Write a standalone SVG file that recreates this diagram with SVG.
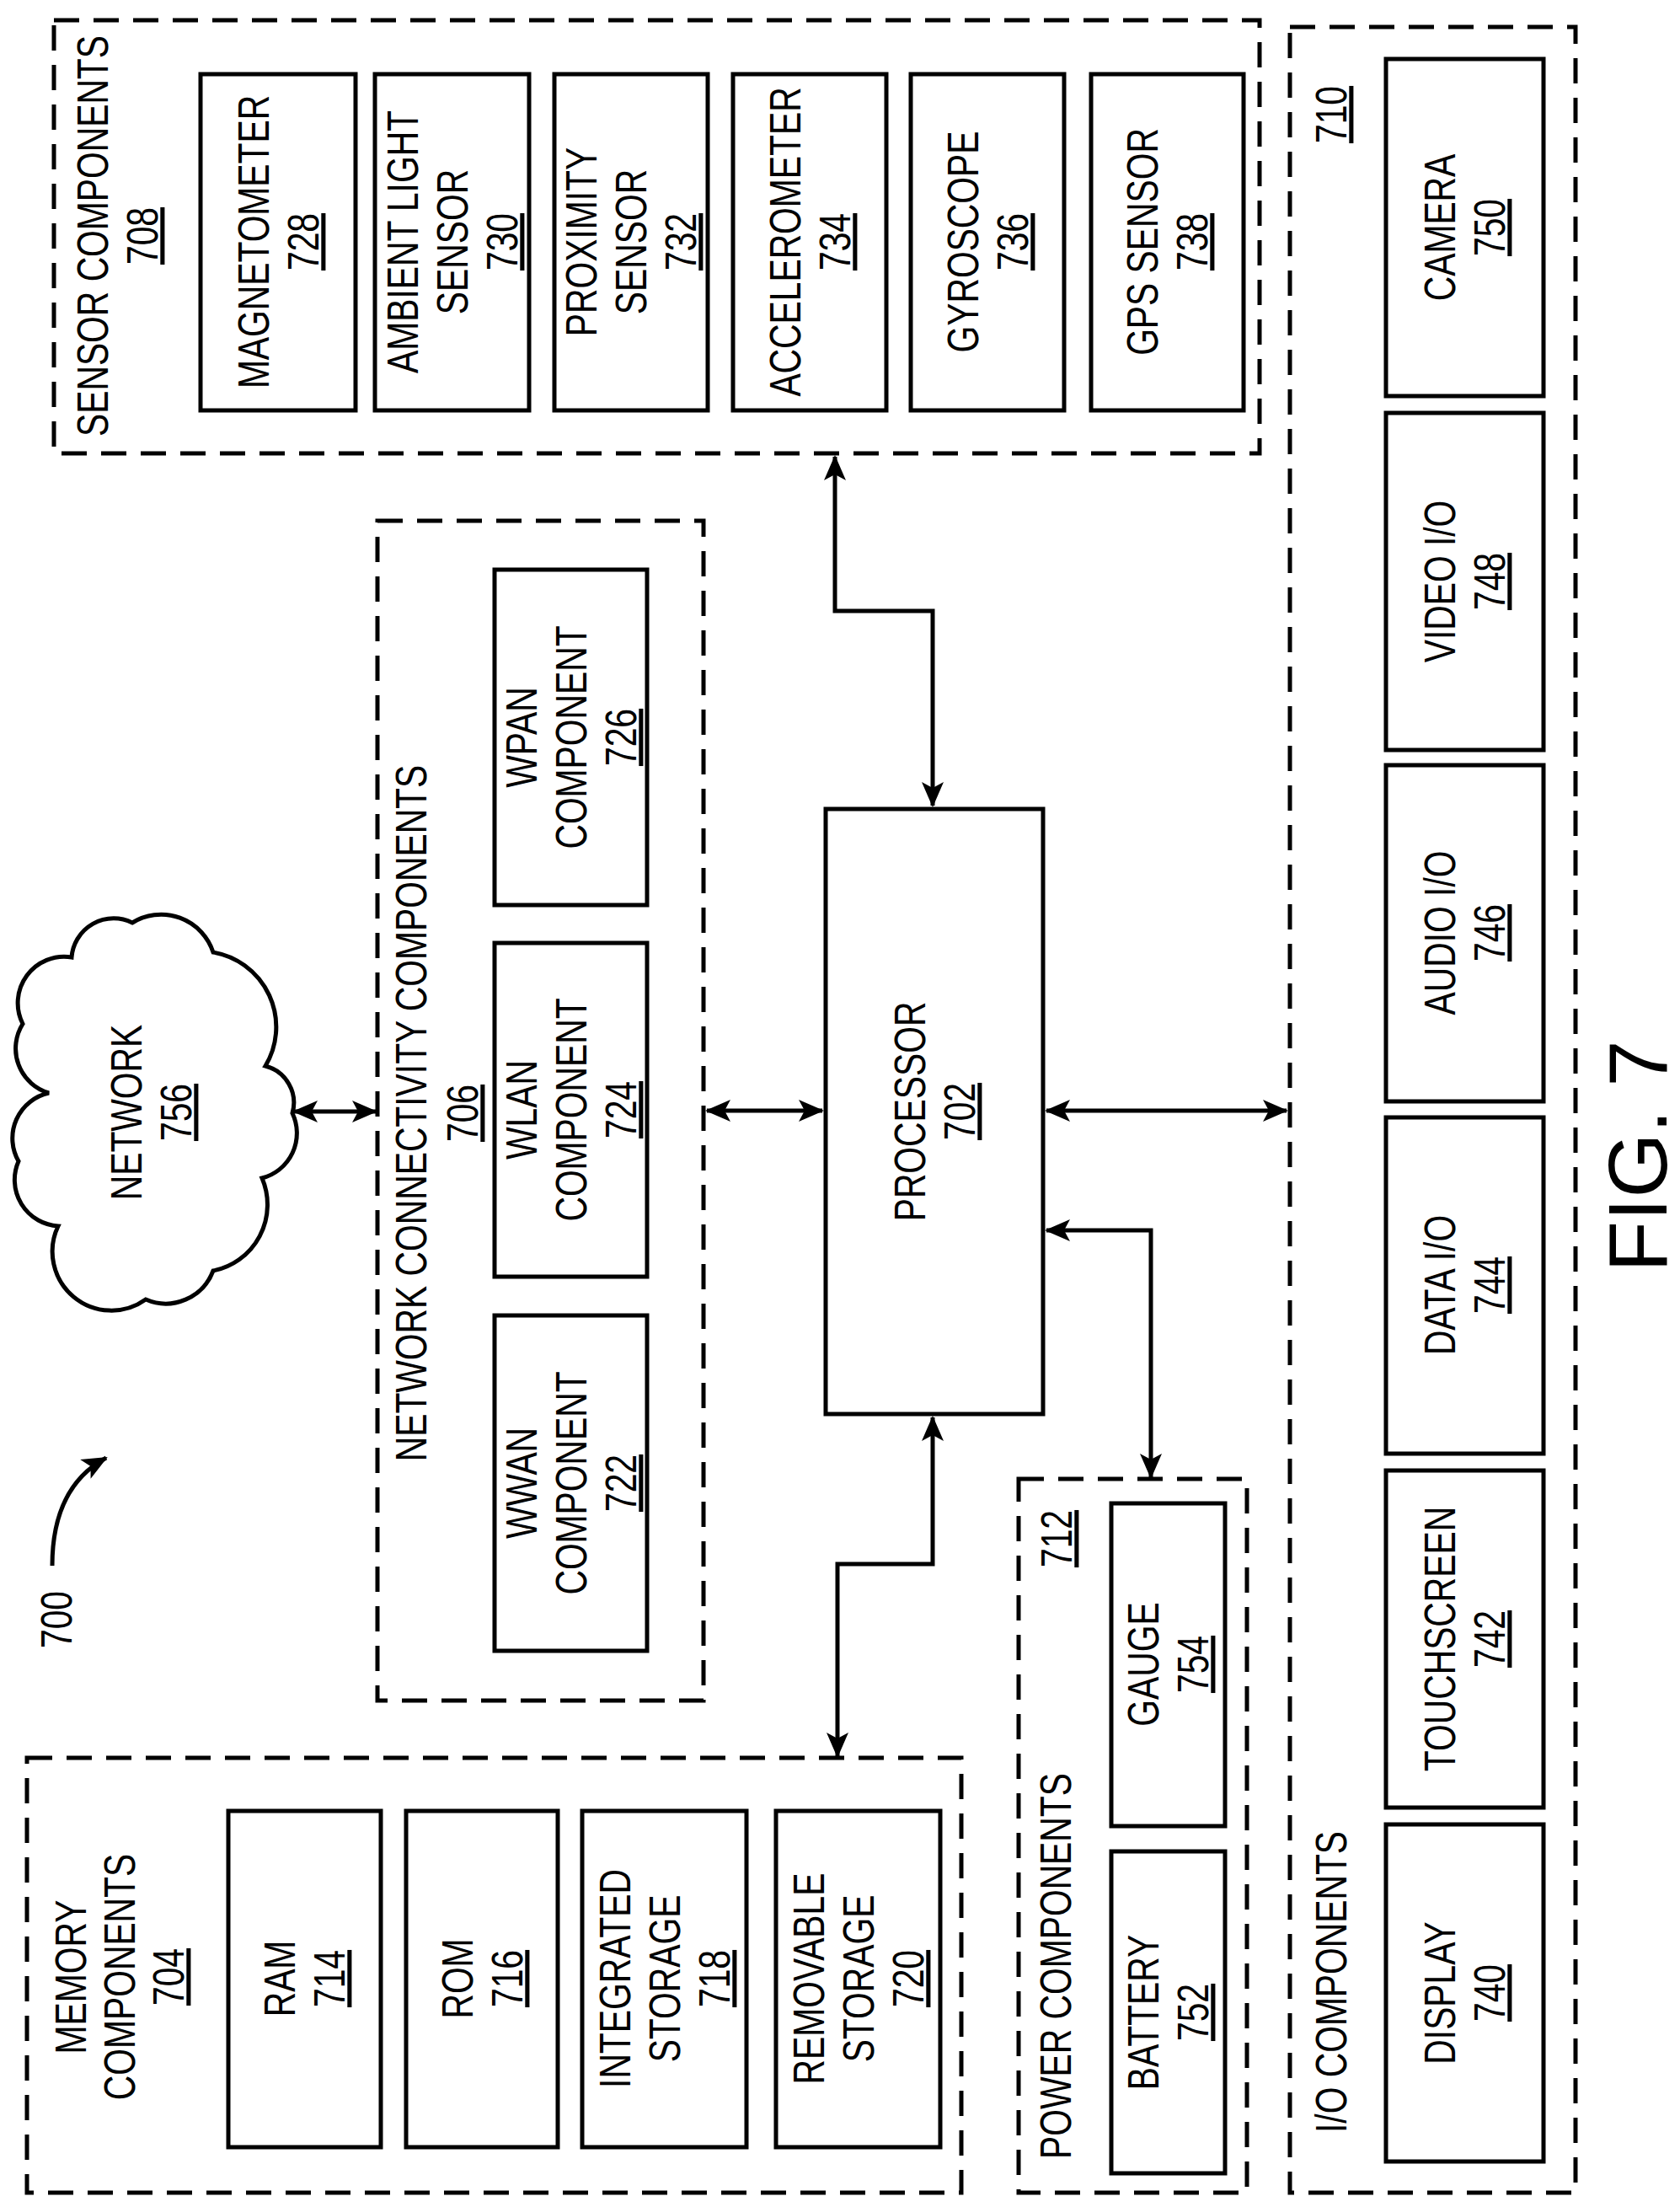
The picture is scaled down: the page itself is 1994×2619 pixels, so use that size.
<svg xmlns="http://www.w3.org/2000/svg" width="1994" height="2619" viewBox="0 0 1994 2619">
<style>
.b{fill:#fff;stroke:#000;stroke-width:5}
.d{fill:none;stroke:#000;stroke-width:5;stroke-dasharray:30 17}
.c{fill:none;stroke:#000;stroke-width:5}
text{font-family:"Liberation Sans",Arial,sans-serif;font-size:51px;fill:#000;text-anchor:middle}
.u{text-decoration:underline}
</style>
<defs>
<marker id="a" markerUnits="userSpaceOnUse" markerWidth="30" markerHeight="26" viewBox="0 0 30 26" refX="28" refY="13" orient="auto-start-reverse"><path d="M0,0 L30,13 L0,26 L7,13 Z" fill="#000"/></marker>
</defs>
<rect width="1994" height="2619" fill="#fff"/>

<g id="sensor">
<rect class="d" x="64" y="24" width="1431" height="514"/>
<text transform="translate(128,280) rotate(-90) scale(0.8,1)">SENSOR COMPONENTS</text>
<text class="u" transform="translate(187,280) rotate(-90) scale(0.8,1)">708</text>
</g>
<g id="n728"><rect class="b" x="238" y="88" width="184" height="399"/>
<text transform="translate(319,287) rotate(-90) scale(0.8,1)">MAGNETOMETER</text>
<text class="u" transform="translate(378,287) rotate(-90) scale(0.8,1)">728</text></g>
<g id="n730"><rect class="b" x="445" y="88" width="183" height="399"/>
<text transform="translate(496,287) rotate(-90) scale(0.8,1)">AMBIENT LIGHT</text>
<text transform="translate(555,287) rotate(-90) scale(0.8,1)">SENSOR</text>
<text class="u" transform="translate(614,287) rotate(-90) scale(0.8,1)">730</text></g>
<g id="n732"><rect class="b" x="658" y="88" width="182" height="399"/>
<text transform="translate(708,287) rotate(-90) scale(0.8,1)">PROXIMITY</text>
<text transform="translate(767,287) rotate(-90) scale(0.8,1)">SENSOR</text>
<text class="u" transform="translate(826,287) rotate(-90) scale(0.8,1)">732</text></g>
<g id="n734"><rect class="b" x="870" y="88" width="182" height="399"/>
<text transform="translate(950,287) rotate(-90) scale(0.8,1)">ACCELEROMETER</text>
<text class="u" transform="translate(1009,287) rotate(-90) scale(0.8,1)">734</text></g>
<g id="n736"><rect class="b" x="1081" y="88" width="182" height="399"/>
<text transform="translate(1161,287) rotate(-90) scale(0.8,1)">GYROSCOPE</text>
<text class="u" transform="translate(1220,287) rotate(-90) scale(0.8,1)">736</text></g>
<g id="n738"><rect class="b" x="1295" y="88" width="181" height="399"/>
<text transform="translate(1374,287) rotate(-90) scale(0.8,1)">GPS SENSOR</text>
<text class="u" transform="translate(1433,287) rotate(-90) scale(0.8,1)">738</text></g>

<g id="io">
<rect class="d" x="1531" y="32" width="339" height="2570"/>
<text class="u" transform="translate(1598,136) rotate(-90) scale(0.8,1)">710</text>
<text transform="translate(1598,2352) rotate(-90) scale(0.8,1)">I/O COMPONENTS</text>
</g>
<g id="n750"><rect class="b" x="1645" y="70" width="187" height="400"/>
<text transform="translate(1727,270) rotate(-90) scale(0.8,1)">CAMERA</text>
<text class="u" transform="translate(1786,270) rotate(-90) scale(0.8,1)">750</text></g>
<g id="n748"><rect class="b" x="1645" y="490" width="187" height="400"/>
<text transform="translate(1727,690) rotate(-90) scale(0.8,1)">VIDEO I/O</text>
<text class="u" transform="translate(1786,690) rotate(-90) scale(0.8,1)">748</text></g>
<g id="n746"><rect class="b" x="1645" y="908" width="187" height="399"/>
<text transform="translate(1727,1107) rotate(-90) scale(0.8,1)">AUDIO I/O</text>
<text class="u" transform="translate(1786,1107) rotate(-90) scale(0.8,1)">746</text></g>
<g id="n744"><rect class="b" x="1645" y="1326" width="187" height="399"/>
<text transform="translate(1727,1525) rotate(-90) scale(0.8,1)">DATA I/O</text>
<text class="u" transform="translate(1786,1525) rotate(-90) scale(0.8,1)">744</text></g>
<g id="n742"><rect class="b" x="1645" y="1745" width="187" height="400"/>
<text transform="translate(1727,1945) rotate(-90) scale(0.8,1)">TOUCHSCREEN</text>
<text class="u" transform="translate(1786,1945) rotate(-90) scale(0.8,1)">742</text></g>
<g id="n740"><rect class="b" x="1645" y="2165" width="187" height="400"/>
<text transform="translate(1727,2365) rotate(-90) scale(0.8,1)">DISPLAY</text>
<text class="u" transform="translate(1786,2365) rotate(-90) scale(0.8,1)">740</text></g>

<g id="ncc">
<rect class="d" x="448" y="618" width="387" height="1400"/>
<text transform="translate(506,1321) rotate(-90) scale(0.8,1)">NETWORK CONNECTIVITY COMPONENTS</text>
<text class="u" transform="translate(567,1321) rotate(-90) scale(0.8,1)">706</text>
</g>
<g id="n726"><rect class="b" x="587" y="676" width="181" height="398"/>
<text transform="translate(637,875) rotate(-90) scale(0.8,1)">WPAN</text>
<text transform="translate(696,875) rotate(-90) scale(0.8,1)">COMPONENT</text>
<text class="u" transform="translate(755,875) rotate(-90) scale(0.8,1)">726</text></g>
<g id="n724"><rect class="b" x="587" y="1119" width="181" height="396"/>
<text transform="translate(637,1317) rotate(-90) scale(0.8,1)">WLAN</text>
<text transform="translate(696,1317) rotate(-90) scale(0.8,1)">COMPONENT</text>
<text class="u" transform="translate(755,1317) rotate(-90) scale(0.8,1)">724</text></g>
<g id="n722"><rect class="b" x="587" y="1561" width="181" height="398"/>
<text transform="translate(637,1760) rotate(-90) scale(0.8,1)">WWAN</text>
<text transform="translate(696,1760) rotate(-90) scale(0.8,1)">COMPONENT</text>
<text class="u" transform="translate(755,1760) rotate(-90) scale(0.8,1)">722</text></g>

<g id="n756">
<path class="b" d="M85,1136 A50,50 0 0 1 157,1095 A65,65 0 0 1 253,1130 A90,90 0 0 1 315,1265 A45,45 0 0 1 347,1321 A55,55 0 0 1 311,1398 A80,80 0 0 1 253,1508 A60,60 0 0 1 173,1542 A70,70 0 0 1 69,1455 A55,55 0 0 1 22,1378 A55,55 0 0 1 58,1297 A55,55 0 0 1 27,1215 A55,55 0 0 1 85,1136 Z"/>
<text transform="translate(168,1320) rotate(-90) scale(0.8,1)">NETWORK</text>
<text class="u" transform="translate(227,1320) rotate(-90) scale(0.8,1)">756</text>
</g>

<g id="n702"><rect class="b" x="980" y="960" width="258" height="718"/>
<text transform="translate(1098,1319) rotate(-90) scale(0.8,1)">PROCESSOR</text>
<text class="u" transform="translate(1157,1319) rotate(-90) scale(0.8,1)">702</text></g>

<g id="memory">
<rect class="d" x="32" y="2086" width="1109" height="516"/>
<text transform="translate(102,2346) rotate(-90) scale(0.8,1)">MEMORY</text>
<text transform="translate(160,2346) rotate(-90) scale(0.8,1)">COMPONENTS</text>
<text class="u" transform="translate(218,2346) rotate(-90) scale(0.8,1)">704</text>
</g>
<g id="n714"><rect class="b" x="271" y="2149" width="181" height="399"/>
<text transform="translate(350,2348) rotate(-90) scale(0.8,1)">RAM</text>
<text class="u" transform="translate(409,2348) rotate(-90) scale(0.8,1)">714</text></g>
<g id="n716"><rect class="b" x="482" y="2149" width="180" height="399"/>
<text transform="translate(561,2348) rotate(-90) scale(0.8,1)">ROM</text>
<text class="u" transform="translate(620,2348) rotate(-90) scale(0.8,1)">716</text></g>
<g id="n718"><rect class="b" x="691" y="2149" width="195" height="399"/>
<text transform="translate(748,2348) rotate(-90) scale(0.8,1)">INTEGRATED</text>
<text transform="translate(807,2348) rotate(-90) scale(0.8,1)">STORAGE</text>
<text class="u" transform="translate(866,2348) rotate(-90) scale(0.8,1)">718</text></g>
<g id="n720"><rect class="b" x="921" y="2149" width="195" height="399"/>
<text transform="translate(978,2348) rotate(-90) scale(0.8,1)">REMOVABLE</text>
<text transform="translate(1037,2348) rotate(-90) scale(0.8,1)">STORAGE</text>
<text class="u" transform="translate(1096,2348) rotate(-90) scale(0.8,1)">720</text></g>

<g id="power">
<rect class="d" x="1209" y="1755" width="271" height="847"/>
<text transform="translate(1271,2333) rotate(-90) scale(0.8,1)">POWER COMPONENTS</text>
<text class="u" transform="translate(1272,1826) rotate(-90) scale(0.8,1)">712</text>
</g>
<g id="n754"><rect class="b" x="1319" y="1784" width="135" height="383"/>
<text transform="translate(1375,1975) rotate(-90) scale(0.8,1)">GAUGE</text>
<text class="u" transform="translate(1434,1975) rotate(-90) scale(0.8,1)">754</text></g>
<g id="n752"><rect class="b" x="1319" y="2197" width="135" height="382"/>
<text transform="translate(1375,2388) rotate(-90) scale(0.8,1)">BATTERY</text>
<text class="u" transform="translate(1434,2388) rotate(-90) scale(0.8,1)">752</text></g>

<g id="label700">
<text transform="translate(85,1922) rotate(-90) scale(0.8,1)">700</text>
</g>

<g id="connectors">
<path class="c" d="M62,1858 C62,1800 80,1755 126,1730" marker-end="url(#a)"/>
<path class="c" d="M349,1319 L446,1319" marker-start="url(#a)" marker-end="url(#a)"/>
<path class="c" d="M839,1318 L976,1318" marker-start="url(#a)" marker-end="url(#a)"/>
<path class="c" d="M1242,1318 L1527,1318" marker-start="url(#a)" marker-end="url(#a)"/>
<path class="c" d="M991,542 L991,725 L1107,725 L1107,956" marker-start="url(#a)" marker-end="url(#a)"/>
<path class="c" d="M1242,1460 L1366,1460 L1366,1753" marker-start="url(#a)" marker-end="url(#a)"/>
<path class="c" d="M1107,1682 L1107,1856 L994,1856 L994,2084" marker-start="url(#a)" marker-end="url(#a)"/>
</g>

<g id="figlabel"><text style="font-size:99px" transform="translate(1978,1372) rotate(-90)">FIG. 7</text></g>
</svg>
